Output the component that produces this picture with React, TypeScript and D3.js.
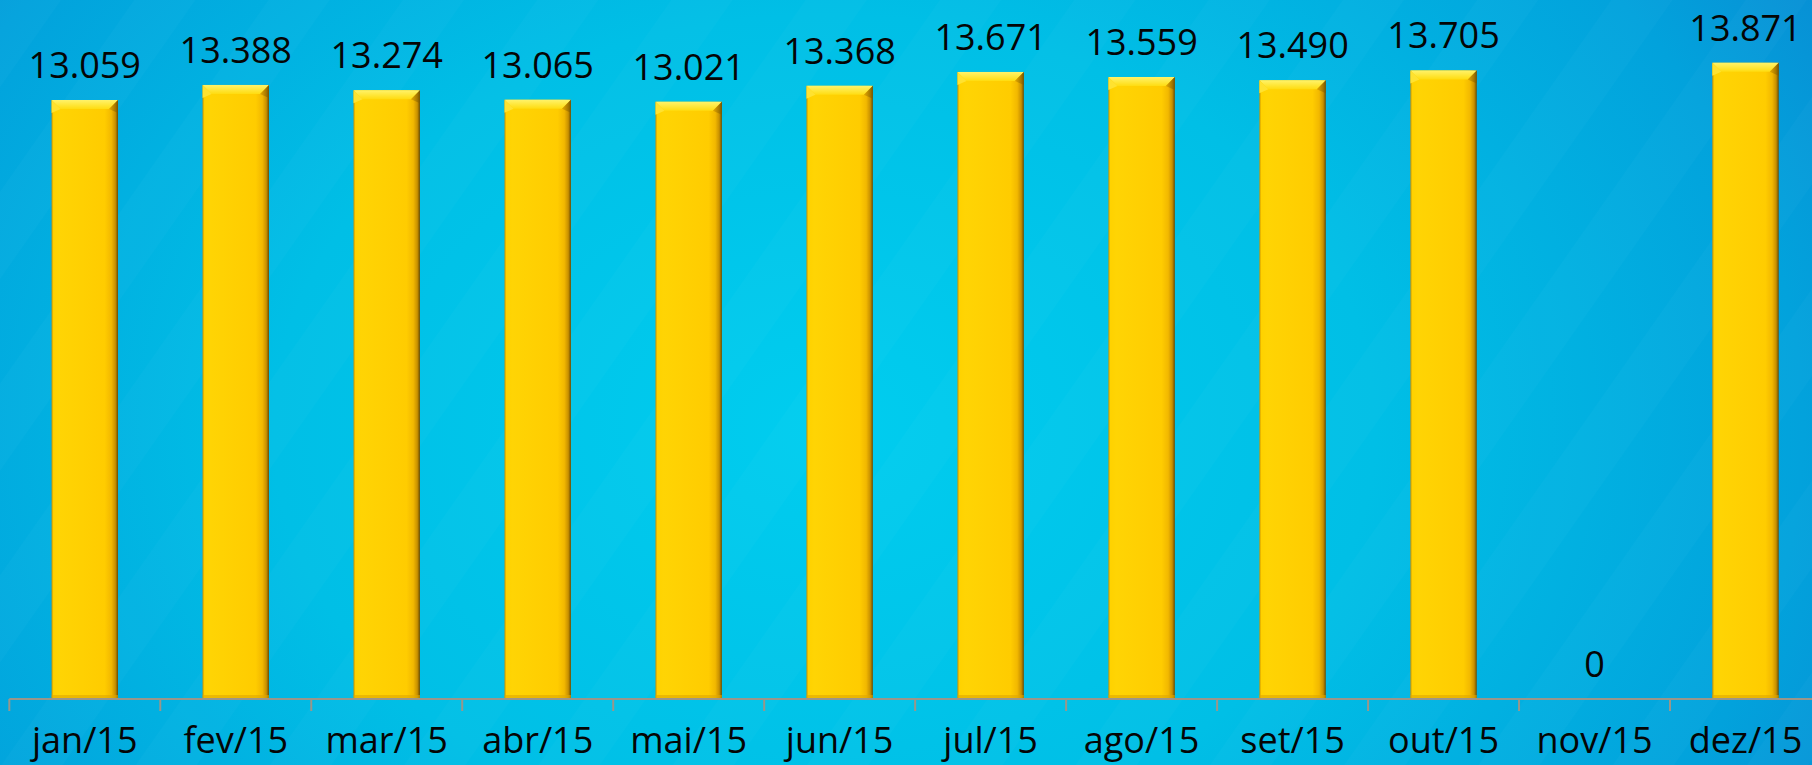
import React from "react";
import * as d3 from "d3";

const categories = ["jan/15", "fev/15", "mar/15", "abr/15", "mai/15", "jun/15", "jul/15", "ago/15", "set/15", "out/15", "nov/15", "dez/15"];
const values = [13059, 13388, 13274, 13065, 13021, 13368, 13671, 13559, 13490, 13705, 0, 13871];
const yDomain = [0, 15000];

const W = 1812;
const H = 765;
const plotLeft = 9.3;
const plotRight = 1821;
const axisY = 699;
const plotTop = 11;

const ptBR = d3.formatLocale({ decimal: ",", thousands: ".", grouping: [3], currency: ["R$", ""] });
const fmt = ptBR.format(",d");

export default function App() {
  const x = d3.scaleBand<string>().domain(categories).range([plotLeft, plotRight]).paddingInner(0.56).paddingOuter(0.28);
  const xTicks = d3.scaleBand<string>().domain(categories).range([plotLeft, plotRight]).padding(0);
  const y = d3.scaleLinear().domain(yDomain).range([axisY, plotTop]);
  const bw = x.bandwidth();
  const b = 9;
  const font = "'Open Sans', 'Noto Sans', sans-serif";

  return (
    <svg width={W} height={H} viewBox={`0 0 ${W} ${H}`} style={{ position: "absolute", left: 0, top: 0, display: "block" }}>
      <defs>
        <radialGradient id="bg" cx="0.45" cy="0.55" r="0.75" gradientTransform="translate(0.05,0) scale(0.9,1.6) translate(0,-0.2)">
          <stop offset="0%" stopColor="#00CDEF" />
          <stop offset="45%" stopColor="#00BFE6" />
          <stop offset="80%" stopColor="#02A2DC" />
          <stop offset="100%" stopColor="#0A88D2" />
        </radialGradient>
        <pattern id="stripes" width="110" height="110" patternUnits="userSpaceOnUse" patternTransform="rotate(35)">
          <rect x="0" y="0" width="50" height="110" fill="#ffffff" opacity="0.02" />
        </pattern>
        <linearGradient id="barBody" x1="0" y1="0" x2="1" y2="0">
          <stop offset="0%" stopColor="#C99300" />
          <stop offset="3%" stopColor="#FFD200" />
          <stop offset="12%" stopColor="#FFD404" />
          <stop offset="80%" stopColor="#FFCC00" />
          <stop offset="90%" stopColor="#F2B800" />
          <stop offset="96%" stopColor="#C89000" />
          <stop offset="100%" stopColor="#6A4C00" />
        </linearGradient>
        <linearGradient id="barTop" x1="0" y1="0" x2="0" y2="1">
          <stop offset="0%" stopColor="#FFF36A" />
          <stop offset="100%" stopColor="#FFDC10" />
        </linearGradient>
        <linearGradient id="barRight" x1="0" y1="0" x2="1" y2="0">
          <stop offset="0%" stopColor="#D89E00" />
          <stop offset="100%" stopColor="#7A5600" />
        </linearGradient>
      </defs>
      <rect x={0} y={0} width={W} height={H} fill="url(#bg)" />
      <rect x={0} y={0} width={W} height={H} fill="url(#stripes)" />

      {categories.map((c, i) => {
        const v = values[i];
        const x0 = x(c)!;
        const top = y(v);
        const h = axisY - top;
        const cx = x0 + bw / 2;
        return (
          <g key={c}>
            {h > 0 && (
              <g>
                <rect x={x0} y={top} width={bw} height={h} fill="url(#barBody)" />
                <polygon
                  points={`${x0},${top} ${x0 + bw},${top} ${x0 + bw - b},${top + b} ${x0 + b},${top + b}`}
                  fill="url(#barTop)"
                />
                <polygon
                  points={`${x0 + bw},${top} ${x0 + bw},${top + b + 4} ${x0 + bw - b},${top + b}`}
                  fill="url(#barRight)"
                  opacity={0.7}
                />
                <polygon
                  points={`${x0},${top} ${x0 + b},${top + b} ${x0},${top + b + 4}`}
                  fill="#FFE230"
                />
                <rect x={x0} y={axisY - 4} width={bw} height={4} fill="#E0A600" opacity={0.6} />
              </g>
            )}
            <text x={cx} y={top - 22} textAnchor="middle" fontFamily={font} fontSize={36} fill="#050505">
              {fmt(v)}
            </text>
          </g>
        );
      })}

      <line x1={plotLeft} x2={W} y1={axisY} y2={axisY} stroke="#9A968A" strokeWidth={2} />
      {categories.map((c) => (
        <line key={"t" + c} x1={xTicks(c)!} x2={xTicks(c)!} y1={axisY} y2={axisY + 12} stroke="#9A968A" strokeWidth={2} />
      ))}
      {categories.map((c) => (
        <text key={"l" + c} x={xTicks(c)! + xTicks.bandwidth() / 2} y={753} textAnchor="middle" fontFamily={font} fontSize={36} fill="#050505">
          {c}
        </text>
      ))}
    </svg>
  );
}
